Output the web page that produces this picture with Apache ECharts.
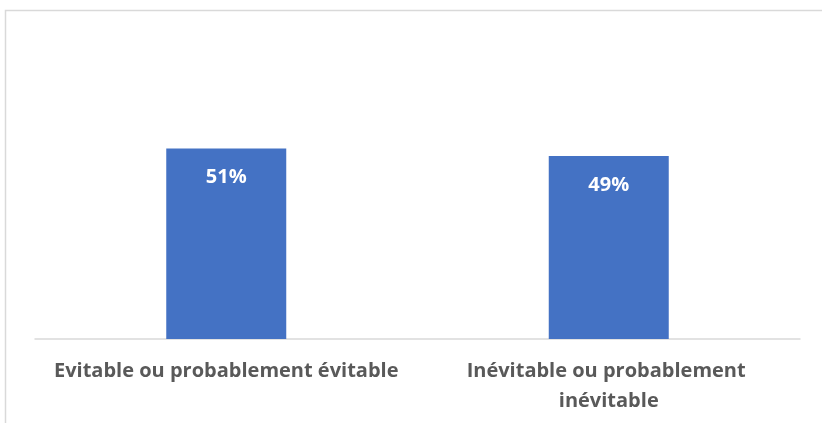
<!DOCTYPE html>
<html>
<head>
<meta charset="utf-8">
<script src="https://cdn.jsdelivr.net/npm/echarts@6/dist/echarts.min.js"></script>
<style>
  html, body { margin: 0; padding: 0; background: #fff; }
  #chart { width: 822px; height: 423px; }
</style>
</head>
<body>
<div id="chart"></div>
<script>
// Share of cases by avoidability
const categories = ['Evitable ou probablement évitable', 'Inévitable ou probablement inévitable'];
const shares = [51, 49];

const chart = echarts.init(document.getElementById('chart'));

chart.setOption({
  animation: false,
  graphic: [{
    type: 'rect',
    silent: true,
    shape: { x: 5.5, y: 10.5, width: 900, height: 500 },
    style: { fill: 'none', stroke: '#d9d9d9', lineWidth: 1.5 }
  }],
  grid: { left: 35, right: 22, top: 115, bottom: 84 },
  xAxis: {
    type: 'category',
    data: categories,
    axisLine: { lineStyle: { color: '#d9d9d9', width: 1.5 } },
    axisTick: { show: false },
    axisLabel: {
      color: '#595959',
      fontFamily: 'Open Sans',
      fontWeight: 'bold',
      fontSize: 20,
      margin: 17,
      width: 360,
      overflow: 'break',
      lineHeight: 30,
      interval: 0
    }
  },
  yAxis: {
    type: 'value',
    min: 0,
    max: 60,
    show: false,
    splitLine: { show: false }
  },
  series: [{
    type: 'bar',
    data: shares,
    barWidth: 120,
    itemStyle: { color: '#4472C4' },
    label: {
      show: true,
      position: 'insideTop',
      distance: 19,
      formatter: '{c}%',
      color: '#ffffff',
      fontFamily: 'Open Sans',
      fontWeight: 'bold',
      fontSize: 20
    }
  }]
});
</script>
</body>
</html>
